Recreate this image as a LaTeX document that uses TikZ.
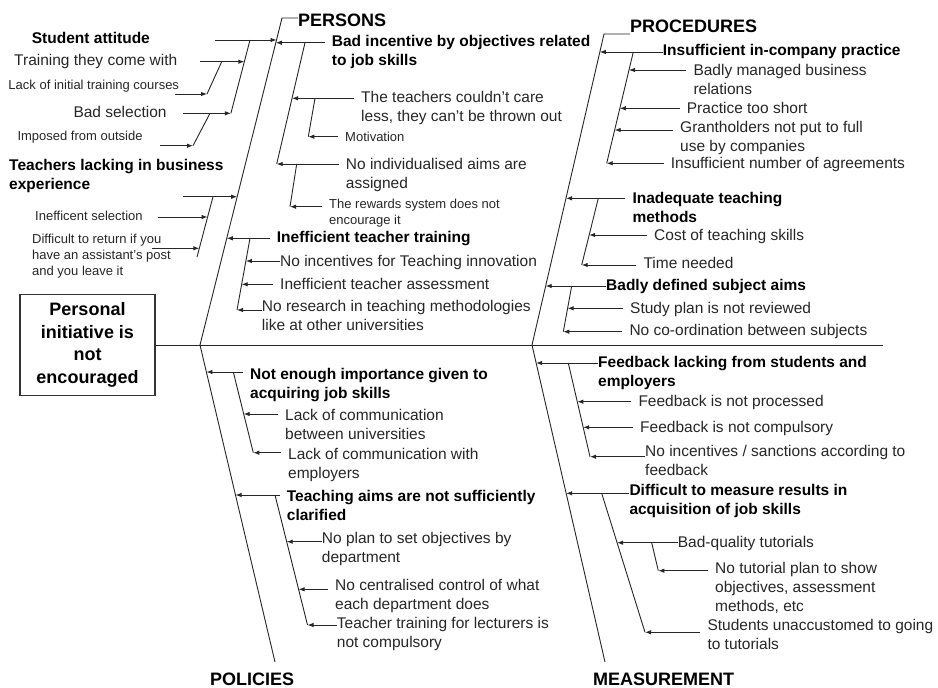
\documentclass[tikz,border=0pt]{standalone}
\usepackage{fontspec}
\setmainfont{Liberation Sans}
\usetikzlibrary{arrows.meta}
\tikzset{
  bone/.style={line width=0.9pt, black!85},
  arr/.style={bone, -{Latex[length=6pt,width=4.5pt]}},
  gap/.style={shorten <=7pt},
  cause/.style={anchor=base west, inner sep=0pt, align=left, font=\fontsize{15.5}{19}\selectfont\bfseries},
  item/.style={anchor=base west, inner sep=0pt, align=left, text=black!85, font=\fontsize{15.5}{19}\selectfont},
  note/.style={anchor=base west, inner sep=0pt, align=left, text=black!85, font=\fontsize{13}{16}\selectfont},
  cat/.style={anchor=base west, inner sep=0pt, font=\fontsize{18}{20}\selectfont\bfseries},
  goal/.style={draw=black!80, line width=1.3pt, minimum width=135pt, minimum height=101pt, align=center, font=\fontsize{18}{22.5}\selectfont\bfseries}
}
\begin{document}
\begin{tikzpicture}[x=1pt, y=-1pt]
  \useasboundingbox (0,0) rectangle (938,688);
  % effect and spine
  \node[goal] (goal) at (87.5,345) {Personal\\initiative is\\not\\encouraged};
  \coordinate (spine) at (883,345);
  \draw[bone] (goal.east) -- (spine);
  % main bones
  \coordinate (pers-b) at (200,345);
  \coordinate (pers-t) at (282,18);
  \coordinate (pol-b) at (275,662);
  \coordinate (proc-b) at (532,345);
  \coordinate (proc-t) at (604,34);
  \coordinate (meas-b) at (605,662);
  \node[cat] (pers) at (298,26) {PERSONS};
  \node[cat] (proc) at (630,32.3) {PROCEDURES};
  \node[cat] (pol) at (210,685) {POLICIES};
  \node[cat] (meas) at (593,685) {MEASUREMENT};
  \draw[bone] (pol-b) -- (pers-b) -- (pers-t) -- (pers-t -| pers.west);
  \draw[bone] (meas-b) -- (proc-b) -- (proc-t) -- (proc-t -| proc.west);

  % PERSONS, left side
  \node[cause] (stud) at (31.7,43.3) {Student attitude};
  \coordinate (stud-t) at (215,40);
  \coordinate (stud-h) at (276.5,40);
  \coordinate (stud-s) at (250,40);
  \draw[arr] (stud-t) -- (stud-h);
  \node[item] (train) at (14,65) {Training they come with};
  \coordinate (train-t) at (200,61.7);
  \coordinate (train-h) at (244.3,61.7);
  \coordinate (train-s) at (221.7,61.7);
  \draw[arr] (train-t) -- (train-h);
  \node[note] (initc) at (8.3,89.5) {Lack of initial training courses};
  \coordinate (initc-t) at (175,94);
  \coordinate (initc-h) at (207,94);
  \draw[arr] (initc-t) -- (initc-h);
  \draw[bone] (train-s) -- (initc-h);
  \node[item] (bsel) at (73.3,117.3) {Bad selection};
  \coordinate (bsel-t) at (183.3,113.3);
  \coordinate (bsel-h) at (230.9,113.3);
  \coordinate (bsel-s) at (210,113.3);
  \draw[arr] (bsel-t) -- (bsel-h);
  \draw[bone] (stud-s) -- (bsel-h);
  \node[note] (impo) at (17.3,140.2) {Imposed from outside};
  \coordinate (impo-t) at (160,145.7);
  \coordinate (impo-h) at (193,145.7);
  \draw[arr] (impo-t) -- (impo-h);
  \draw[bone] (bsel-s) -- (impo-h);

  \node[cause] (tlack) at (9,189.5) {Teachers lacking in business\\experience};
  \coordinate (tlack-t) at (182.7,196.7);
  \coordinate (tlack-h) at (237.2,196.7);
  \coordinate (tlack-s) at (213,196.7);
  \coordinate (tlack-e) at (197,257);
  \draw[arr] (tlack-t) -- (tlack-h);
  \draw[bone] (tlack-s) -- (tlack-e);
  \node[note] (ineffs) at (35,220.5) {Inefficent selection};
  \coordinate (ineffs-t) at (158,217);
  \coordinate (ineffs-h) at (207.6,217);
  \draw[arr] (ineffs-t) -- (ineffs-h);
  \node[note] (diffr) at (32,275) {Difficult to return if you\\have an assistant's post\\and you leave it};
  \coordinate (diffr-t) at (151.7,248.3);
  \coordinate (diffr-h) at (199.3,248.3);
  \draw[arr] (diffr-t) -- (diffr-h);

  % PERSONS, right side
  \node[cause] (binc) at (331.7,65) {Bad incentive by objectives related\\to job skills};
  \coordinate (binc-h) at (275.8,42.7);
  \coordinate (binc-s) at (305,42.7);
  \draw[arr,gap] (binc-h -| binc.west) -- (binc-h);
  \node[item] (ccare) at (361,121) {The teachers couldn't care\\less, they can't be thrown out};
  \coordinate (ccare-h) at (292,98.3);
  \coordinate (ccare-s) at (315,98.3);
  \draw[arr,gap] (ccare-h -| ccare.west) -- (ccare-h);
  \node[note] (motiv) at (345,141.8) {Motivation};
  \coordinate (motiv-h) at (308.3,136.7);
  \draw[arr,gap] (motiv-h -| motiv.west) -- (motiv-h);
  \draw[bone] (ccare-s) -- (motiv-h);
  \node[item] (noaims) at (345.7,188.5) {No individualised aims are\\assigned};
  \coordinate (noaims-h) at (276.7,164);
  \coordinate (noaims-s) at (296.7,164);
  \draw[arr,gap] (noaims-h -| noaims.west) -- (noaims-h);
  \draw[bone] (binc-s) -- (noaims-h);
  \node[note] (rewd) at (329,224) {The rewards system does not\\encourage it};
  \coordinate (rewd-h) at (290,206.7);
  \draw[arr,gap] (rewd-h -| rewd.west) -- (rewd-h);
  \draw[bone] (noaims-s) -- (rewd-h);

  \node[cause] (ttrain) at (276.7,242.3) {Inefficient teacher training};
  \coordinate (ttrain-h) at (226.8,238.3);
  \coordinate (ttrain-s) at (250,238.3);
  \draw[arr,gap] (ttrain-h -| ttrain.west) -- (ttrain-h);
  \node[item] (innov) at (280,266) {No incentives for Teaching innovation};
  \coordinate (innov-h) at (245.9,261);
  \draw[arr] (innov-h -| innov.west) -- (innov-h);
  \node[item] (tassess) at (280,289) {Inefficient teacher assessment};
  \coordinate (tassess-h) at (241.7,284.3);
  \draw[arr,gap] (tassess-h -| tassess.west) -- (tassess-h);
  \node[item] (resch) at (261.7,330) {No research in teaching methodologies\\like at other universities};
  \coordinate (resch-h) at (237,310);
  \draw[arr] (resch-h -| resch.west) -- (resch-h);
  \draw[bone] (ttrain-s) -- (resch-h);

  % PROCEDURES
  \node[cause] (icp) at (662.7,55.7) {Insufficient in-company practice};
  \coordinate (icp-h) at (599.8,52);
  \coordinate (icp-s) at (633.3,52);
  \draw[arr] (icp-h -| icp.west) -- (icp-h);
  \node[item] (bmbr) at (693.3,94.5) {Badly managed business\\relations};
  \coordinate (bmbr-h) at (629,70);
  \draw[arr,gap] (bmbr-h -| bmbr.west) -- (bmbr-h);
  \node[item] (pshort) at (686.7,113.3) {Practice too short};
  \coordinate (pshort-h) at (619.8,108.3);
  \draw[arr,gap] (pshort-h -| pshort.west) -- (pshort-h);
  \node[item] (grant) at (680,151.5) {Grantholders not put to full\\use by companies};
  \coordinate (grant-h) at (614.7,130);
  \draw[arr,gap] (grant-h -| grant.west) -- (grant-h);
  \node[item] (agree) at (670.7,168.3) {Insufficient number of agreements};
  \coordinate (agree-h) at (606.7,163.3);
  \draw[arr,gap] (agree-h -| agree.west) -- (agree-h);
  \draw[bone] (icp-s) -- (agree-h);

  \node[cause] (itm) at (632.3,222.3) {Inadequate teaching\\methods};
  \coordinate (itm-h) at (566,198.3);
  \coordinate (itm-s) at (598.3,198.3);
  \draw[arr,gap] (itm-h -| itm.west) -- (itm-h);
  \node[item] (cost) at (654,240) {Cost of teaching skills};
  \coordinate (cost-h) at (589.2,235);
  \draw[arr,gap] (cost-h -| cost.west) -- (cost-h);
  \node[item] (time) at (643.3,268.3) {Time needed};
  \coordinate (time-h) at (581.7,265);
  \draw[arr,gap] (time-h -| time.west) -- (time-h);
  \draw[bone] (itm-s) -- (time-h);

  \node[cause] (bdsa) at (606,290.7) {Badly defined subject aims};
  \coordinate (bdsa-h) at (545.7,286);
  \coordinate (bdsa-s) at (571.7,286);
  \draw[arr] (bdsa-h -| bdsa.west) -- (bdsa-h);
  \node[item] (splan) at (630,313) {Study plan is not reviewed};
  \coordinate (splan-h) at (567.6,308.3);
  \draw[arr,gap] (splan-h -| splan.west) -- (splan-h);
  \node[item] (cosub) at (629.3,335.7) {No co-ordination between subjects};
  \coordinate (cosub-h) at (563.3,331.7);
  \draw[arr,gap] (cosub-h -| cosub.west) -- (cosub-h);
  \draw[bone] (bdsa-s) -- (cosub-h);

  % POLICIES
  \node[cause] (neij) at (250,398) {Not enough importance given to\\acquiring job skills};
  \coordinate (neij-h) at (206.4,372);
  \coordinate (neij-s) at (233.3,372);
  \draw[arr,gap] (neij-h -| neij.west) -- (neij-h);
  \node[item] (lcu) at (285,439) {Lack of communication\\between universities};
  \coordinate (lcu-h) at (243.7,414);
  \draw[arr,gap] (lcu-h -| lcu.west) -- (lcu-h);
  \node[item] (lce) at (288,478) {Lack of communication with\\employers};
  \coordinate (lce-h) at (253.3,452.7);
  \draw[arr,gap] (lce-h -| lce.west) -- (lce-h);
  \draw[bone] (neij-s) -- (lce-h);

  \node[cause] (tans) at (286.7,520.5) {Teaching aims are not sufficiently\\clarified};
  \coordinate (tans-h) at (235.5,495);
  \coordinate (tans-s) at (275,495);
  \draw[arr,gap] (tans-h -| tans.west) -- (tans-h);
  \node[item] (nplan) at (321.7,562) {No plan to set objectives by\\department};
  \coordinate (nplan-h) at (286.7,541.7);
  \draw[arr] (nplan-h -| nplan.west) -- (nplan-h);
  \node[item] (ncc) at (335,609) {No centralised control of what\\each department does};
  \coordinate (ncc-h) at (298.6,589.3);
  \draw[arr,gap] (ncc-h -| ncc.west) -- (ncc-h);
  \node[item] (ttl) at (336.7,647) {Teacher training for lecturers is\\not compulsory};
  \coordinate (ttl-h) at (307.5,625);
  \draw[arr] (ttl-h -| ttl.west) -- (ttl-h);
  \draw[bone] (tans-s) -- (ttl-h);

  % MEASUREMENT
  \node[cause] (fbl) at (598,386.5) {Feedback lacking from students and\\employers};
  \coordinate (fbl-h) at (536.1,363);
  \coordinate (fbl-s) at (568.3,363);
  \draw[arr] (fbl-h -| fbl.west) -- (fbl-h);
  \node[item] (fbp) at (638.3,406.7) {Feedback is not processed};
  \coordinate (fbp-h) at (577.3,401.7);
  \draw[arr,gap] (fbp-h -| fbp.west) -- (fbp-h);
  \node[item] (fbc) at (640,432) {Feedback is not compulsory};
  \coordinate (fbc-h) at (583.2,427.3);
  \draw[arr,gap] (fbc-h -| fbc.west) -- (fbc-h);
  \node[item] (nisf) at (645,475.5) {No incentives / sanctions according to\\feedback};
  \coordinate (nisf-h) at (590,456.7);
  \draw[arr] (nisf-h -| nisf.west) -- (nisf-h);
  \draw[bone] (fbl-s) -- (nisf-h);

  \node[cause] (dmr) at (629.3,514) {Difficult to measure results in\\acquisition of job skills};
  \coordinate (dmr-h) at (566.2,493.3);
  \coordinate (dmr-s) at (601.7,493.3);
  \draw[arr] (dmr-h -| dmr.west) -- (dmr-h);
  \node[item] (bqt) at (677.7,547.7) {Bad-quality tutorials};
  \coordinate (bqt-h) at (617.1,542.7);
  \coordinate (bqt-s) at (651.7,542.7);
  \draw[arr] (bqt-h -| bqt.west) -- (bqt-h);
  \node[item] (ntp) at (715,611.5) {No tutorial plan to show\\objectives, assessment\\methods, etc};
  \coordinate (ntp-h) at (658.3,570.7);
  \draw[arr,gap] (ntp-h -| ntp.west) -- (ntp-h);
  \draw[bone] (bqt-s) -- (ntp-h);
  \node[item] (sut) at (707.3,649.5) {Students unaccustomed to going\\to tutorials};
  \coordinate (sut-h) at (645,632.3);
  \draw[arr,gap] (sut-h -| sut.west) -- (sut-h);
  \draw[bone] (dmr-s) -- (sut-h);
\end{tikzpicture}
\end{document}
